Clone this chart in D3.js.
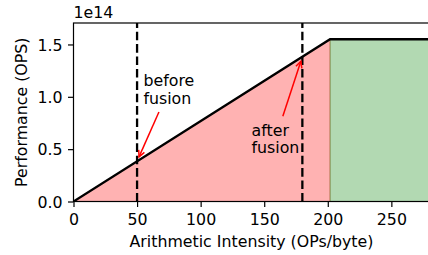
<!DOCTYPE html>
<html><head><meta charset="utf-8">
<script src="https://cdn.jsdelivr.net/npm/d3@7"></script>
<style>
html,body{margin:0;padding:0;background:#fff;}
svg{display:block;}
text{font-family:"DejaVu Sans",sans-serif;font-size:15.8px;fill:#000;}
</style></head>
<body>
<script>
// ---- data ----
const peakPerf = 1.55e14;          // OPS
const ridgePoint = 201.8;          // OPs/byte
const rooflineX = [0, ridgePoint, 280];
const rooflineY = [0, peakPerf, peakPerf];
const memoryBoundX = [0, ridgePoint];
const computeBoundX = [ridgePoint, 280];
const kernelIntensity = [50, 180];
const annotationText = [["before", "fusion"], ["after", "fusion"]];
const annotationTextX = [55, 140];
const annotationTextY = [0.9e14, 0.43e14];
const xTicks = [0, 50, 100, 150, 200, 250];
const yTicks = [0, 0.5e14, 1.0e14, 1.5e14];
const yTickLabels = ["0.0", "0.5", "1.0", "1.5"];
const xDomain = [0, 280];
const yDomain = [0, 1.705e14];

const W = 428, H = 255;
const L = 73.5, T = 23, R = 429.5, B = 201.5;

const svg = d3.select("body").append("svg").attr("width", W).attr("height", H);
const x = d3.scaleLinear().domain(xDomain).range([L, R]);
const y = d3.scaleLinear().domain(yDomain).range([B, T]);
const slope = peakPerf / ridgePoint;
const roof = v => Math.min(slope * v, peakPerf);

svg.append("defs").append("clipPath").attr("id", "clip")
  .append("rect").attr("x", L).attr("y", T).attr("width", R - L).attr("height", B - T);
const plot = svg.append("g").attr("clip-path", "url(#clip)");

// fills
const area = d3.area().x(d => x(d)).y0(y(0)).y1(d => y(roof(d)));
plot.append("path").datum(memoryBoundX).attr("d", area)
  .attr("fill", "rgb(255,0,0)").attr("fill-opacity", 0.3)
  .attr("stroke", "rgb(255,0,0)").attr("stroke-opacity", 0.3).attr("stroke-width", 1.2);
plot.append("path").datum(computeBoundX).attr("d", area)
  .attr("fill", "rgb(0,128,0)").attr("fill-opacity", 0.3)
  .attr("stroke", "rgb(0,128,0)").attr("stroke-opacity", 0.3).attr("stroke-width", 1.2);

// dashed verticals
plot.selectAll("line.vl").data(kernelIntensity).enter().append("line")
  .attr("x1", d => x(d)).attr("x2", d => x(d))
  .attr("y1", y(yDomain[0])).attr("y2", y(yDomain[1]))
  .attr("stroke", "#000").attr("stroke-width", 2.3).attr("stroke-dasharray", "8.6,3.8");

// roofline
plot.append("path").datum(rooflineX.map((v, i) => [v, rooflineY[i]]))
  .attr("d", d3.line().x(d => x(d[0])).y(d => y(d[1])))
  .attr("fill", "none").attr("stroke", "#000").attr("stroke-width", 2.3)
  .attr("stroke-linejoin", "miter");

// axes
const xAxis = svg.append("g").attr("transform", `translate(0,${B})`)
  .call(d3.axisBottom(x).tickValues(xTicks).tickFormat(d3.format("d")).tickSize(5.5).tickPadding(5.5));
const yAxis = svg.append("g").attr("transform", `translate(${L},0)`)
  .call(d3.axisLeft(y).tickValues(yTicks).tickFormat((d, i) => yTickLabels[i]).tickSize(5.5).tickPadding(5.5));
[xAxis, yAxis].forEach(g => {
  g.attr("font-family", null).attr("font-size", null);
  g.selectAll("line").attr("stroke", "#000").attr("stroke-width", 1.2);
  g.select(".domain").remove();
  g.selectAll("text").attr("fill", "#000");
});
xAxis.selectAll("text").attr("dy", null).attr("y", 23.7);
yAxis.selectAll("text").attr("dy", "0.36em");

// spines
svg.append("rect").attr("x", L).attr("y", T).attr("width", R - L).attr("height", B - T)
  .attr("fill", "none").attr("stroke", "#000").attr("stroke-width", 1.2);

// offset text
svg.append("text").attr("x", L).attr("y", 18.3).text("1e14");

// axis labels
svg.append("text").attr("x", (L + R) / 2).attr("y", 247).attr("text-anchor", "middle")
  .text("Arithmetic Intensity (OPs/byte)");
svg.append("text").attr("transform", `translate(26.5,${(T + B) / 2}) rotate(-90)`)
  .attr("text-anchor", "middle").text("Performance (OPS)");

// annotations
const lineH = 17.5, descent = 3.4;
kernelIntensity.forEach((kx, i) => {
  const lines = annotationText[i];
  const bottom = y(annotationTextY[i]);
  const g = svg.append("g");
  const t = g.append("text");
  lines.forEach((s, j) => {
    t.append("tspan").attr("x", x(annotationTextX[i]))
      .attr("y", bottom - descent - (lines.length - 1 - j) * lineH).text(s);
  });
  const bb = t.node().getBBox();
  const cx = bb.x + bb.width / 2, cy = bb.y + bb.height / 2;
  const tx = x(kx), ty = y(roof(kx));
  let dx = tx - cx, dy = ty - cy;
  const len = Math.hypot(dx, dy); dx /= len; dy /= len;
  const tb = Math.min(dx !== 0 ? (bb.width / 2) / Math.abs(dx) : Infinity,
                      dy !== 0 ? (bb.height / 2) / Math.abs(dy) : Infinity);
  const sx = cx + dx * (tb + 4.5), sy = cy + dy * (tb + 4.5);
  const ex = tx - dx * 4.8, ey = ty - dy * 4.8;
  svg.append("line").attr("x1", sx).attr("y1", sy).attr("x2", ex).attr("y2", ey)
    .attr("stroke", "red").attr("stroke-width", 1.5);
  const hl = 6.3, hw = 3.1;
  const bx = ex - dx * hl, by = ey - dy * hl;
  const px = -dy, py = dx;
  svg.append("path")
    .attr("d", `M${bx + px * hw},${by + py * hw}L${ex},${ey}L${bx - px * hw},${by - py * hw}`)
    .attr("fill", "none").attr("stroke", "red").attr("stroke-width", 1.5);
});
</script>
</body></html>
